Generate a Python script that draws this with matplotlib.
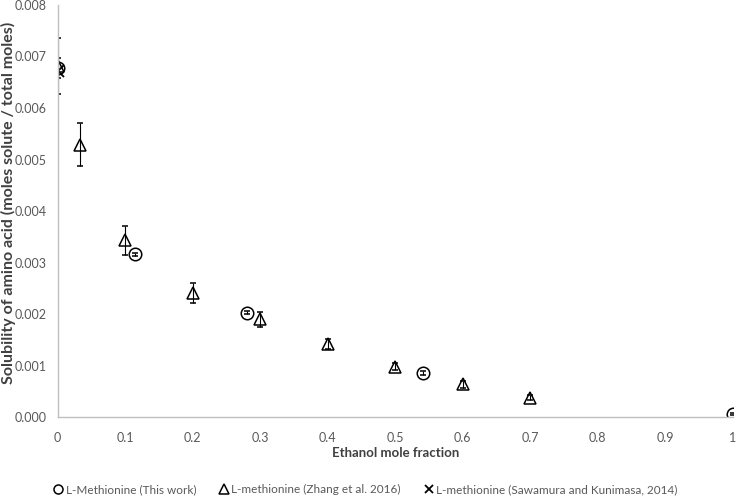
import matplotlib.pyplot as plt
from matplotlib.lines import Line2D
from matplotlib.ticker import FuncFormatter

plt.rcParams['font.family'] = ['Lato', 'DejaVu Sans']

# L-Methionine (This work)
tw_x = [0.0, 0.115, 0.2805, 0.541, 1.0]
tw_y = [0.00678, 0.00316, 0.00203, 0.00086, 0.00006]
tw_err = [0.0002, 0.00003, 0.00003, 0.00004, 0.00002]

# L-methionine (Zhang et al. 2016)
zh_x = [0.0, 0.0326, 0.1, 0.2, 0.3, 0.4, 0.5, 0.6, 0.7]
zh_y = [0.00681, 0.00529, 0.00343, 0.00241, 0.00190, 0.00142, 0.00098, 0.000635, 0.00038]
zh_err = [0.00054, 0.00042, 0.00028, 0.0002, 0.00015, 0.0001, 0.00007, 0.00006, 0.00004]

# L-methionine (Sawamura and Kunimasa, 2014)
sk_x = [0.0]
sk_y = [0.00672]

labels = ['L-Methionine (This work)', 'L-methionine (Zhang et al. 2016)',
          'L-methionine (Sawamura and Kunimasa, 2014)']

fig = plt.figure(figsize=(7.4, 4.96), dpi=100)
ax = fig.add_axes([0.078, 0.159, 0.912, 0.831])

ax.errorbar(tw_x, tw_y, yerr=tw_err, fmt='o', ms=9, mfc='none', mec='black', mew=1.1,
            ecolor='black', elinewidth=0.8, capsize=2.5, capthick=0.8)
ax.errorbar(zh_x, zh_y, yerr=zh_err, fmt='^', ms=9, mfc='none', mec='black', mew=1.1,
            ecolor='black', elinewidth=0.8, capsize=2.5, capthick=0.8)
ax.plot(sk_x, sk_y, 'x', ms=8, mec='black', mew=1.3, ls='none')

ax.set_xlim(0, 1)
ax.set_ylim(0, 0.008)
ax.set_xticks([0, 0.1, 0.2, 0.3, 0.4, 0.5, 0.6, 0.7, 0.8, 0.9, 1])
ax.set_yticks([i * 0.001 for i in range(9)])
ax.xaxis.set_major_formatter(FuncFormatter(lambda v, p: '%g' % round(v, 1)))
ax.yaxis.set_major_formatter(FuncFormatter(lambda v, p: '%.3f' % v))
ax.tick_params(length=0, labelsize=9, labelcolor='#595959', pad=8)
ax.tick_params(axis='x', pad=11)

for s in ['top', 'right']:
    ax.spines[s].set_visible(False)
for s in ['left', 'bottom']:
    ax.spines[s].set_color('#BFBFBF')
    ax.spines[s].set_linewidth(1)

ax.set_xlabel('Ethanol mole fraction', fontsize=9.5, fontweight='bold', color='#404040', labelpad=2)
fig.text(8 / 740, 1 - 203 / 496, 'Solubility of amino acid (moles solute / total moles)',
         rotation=90, ha='center', va='center', fontsize=11.5, fontweight='bold', color='#404040')

handles = [
    Line2D([], [], marker='o', ms=6.5, mfc='none', mec='black', mew=1.1, ls='none'),
    Line2D([], [], marker='^', ms=7, mfc='none', mec='black', mew=1.1, ls='none'),
    Line2D([], [], marker='x', ms=6, mec='black', mew=1.3, ls='none'),
]
fig.legend(handles, labels, loc='lower center', bbox_to_anchor=(0.495, -0.02), ncol=3,
           frameon=False, fontsize=8.5, handlelength=0.6, handletextpad=0.3,
           columnspacing=2.1, labelcolor='#595959')

fig.savefig('out.png', dpi=100)
